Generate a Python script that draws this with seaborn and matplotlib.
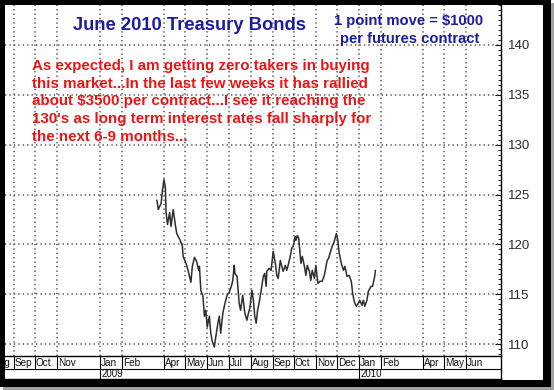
import numpy as np
import pandas as pd
import matplotlib
matplotlib.use("Agg")
import matplotlib.pyplot as plt
from matplotlib.patches import Rectangle
from matplotlib.ticker import MultipleLocator
import seaborn as sns

# ---------------- data ----------------
# days since 2009-01-01 and the closing price of June 2010 T-Bond futures
day_offsets = [80, 82, 86, 88, 90, 92, 93, 95, 98, 100, 103, 106, 108, 110, 113, 116,
               117, 120, 122, 124, 128, 130, 133, 136, 139, 140, 142, 145, 147, 149,
               151, 154, 156, 158, 161, 163, 166, 168, 170, 173, 176, 179, 182, 185,
               187, 189, 190, 193, 194, 196, 198, 201, 204, 207, 209, 211, 214, 216,
               218, 220, 222, 224, 227, 230, 232, 234, 235, 238, 241, 244, 247, 249,
               251, 254, 256, 258, 261, 263, 265, 268, 270, 272, 275, 276, 278, 280,
               281, 283, 285, 288, 290, 292, 295, 297, 299, 302, 304, 307, 310, 313,
               316, 320, 322, 324, 327, 330, 333, 335, 337, 340, 343, 345, 348, 351,
               354, 356, 358, 361, 364, 366, 369, 371, 373, 376, 378, 382, 384, 387, 388]
prices = [124.45, 123.5, 124.1, 125.5, 126.5, 125.7, 123.2, 122.0, 123.2, 121.8, 123.5,
          122.0, 121.1, 120.8, 120.4, 119.8, 118.8, 118.3, 117.9, 117.4, 116.2, 117.8,
          118.7, 118.3, 117.4, 117.8, 115.4, 114.8, 112.8, 113.4, 111.7, 112.8, 111.1,
          110.3, 109.7, 110.7, 112.1, 112.8, 111.1, 113.1, 114.1, 114.9, 115.2, 115.8,
          116.4, 117.9, 117.1, 116.8, 115.9, 114.1, 113.4, 114.9, 113.1, 112.4, 113.1,
          113.6, 115.4, 114.4, 112.8, 112.1, 113.4, 114.1, 115.4, 116.8, 117.1, 115.8,
          117.3, 117.6, 117.4, 119.3, 118.1, 116.9, 116.6, 118.4, 117.8, 117.3, 117.9,
          117.4, 117.9, 118.8, 119.6, 119.8, 120.8, 120.4, 120.9, 120.6, 119.8, 118.1,
          118.8, 117.8, 116.9, 117.9, 117.3, 116.4, 117.4, 116.6, 117.9, 116.1, 116.3,
          116.3, 116.9, 118.4, 118.6, 119.1, 119.8, 120.3, 121.1, 120.4, 119.1, 118.1,
          117.4, 117.8, 116.8, 116.9, 116.3, 115.1, 114.3, 113.8, 114.1, 114.4, 113.9,
          114.4, 113.8, 114.4, 115.3, 115.8, 115.8, 116.8, 117.4]

month_starts = ["2008-08-01", "2008-09-01", "2008-10-01", "2008-11-01", "2009-01-01",
                "2009-02-01", "2009-04-01", "2009-05-01", "2009-06-01", "2009-07-01",
                "2009-08-01", "2009-09-01", "2009-10-01", "2009-11-01", "2009-12-01",
                "2010-01-01", "2010-02-01", "2010-04-01", "2010-05-01", "2010-06-01"]
month_labels = ["Aug", "Sep", "Oct", "Nov", "Jan", "Feb", "Apr", "May", "Jun", "Jul",
                "Aug", "Sep", "Oct", "Nov", "Dec", "Jan", "Feb", "Apr", "May", "Jun"]
year_starts = ["2009-01-01", "2010-01-01"]
year_labels = ["2009", "2010"]
y_ticks = [110, 115, 120, 125, 130, 135, 140]

title = "June 2010 Treasury Bonds"
note_blue = ["1 point move = $1000", "per futures contract"]
note_red = ["As expected, I am getting zero takers in buying",
            "this market...In the last few weeks it has rallied",
            "about $3500 per contract...I see it reaching the",
            "130's as long term interest rates fall sharply for",
            "the next 6-9 months..."]

# ---------------- style ----------------
sns.set_style("white")
plt.rcParams["font.family"] = ["Liberation Sans", "DejaVu Sans"]

W, H = 554, 390
fig = plt.figure(figsize=(W / 100, H / 100), dpi=100)
fig.patch.set_facecolor("white")


def fx(p):
    return p / W


def fy(p):
    return 1 - p / H


PL, PR, PT, PB, BB = 5, 501, 5, 356, 379
ax = fig.add_axes([fx(PL), fy(PB), fx(PR) - fx(PL), fy(PT) - fy(PB)])
ax.set_facecolor("white")

dates = pd.Timestamp("2009-01-01") + pd.to_timedelta(day_offsets, unit="D")
df = pd.DataFrame({"date": dates, "price": prices})

xmin, xmax = pd.Timestamp("2008-08-20"), pd.Timestamp("2010-07-20")
grid_style = dict(color="#555555", lw=1.1, linestyle=(0, (0.9, 2.0)), zorder=1)
for yv in y_ticks:
    ax.axhline(yv, **grid_style)
for ms in month_starts:
    t = pd.Timestamp(ms)
    if xmin < t < xmax:
        ax.axvline(t, **grid_style)

sns.lineplot(data=df, x="date", y="price", ax=ax, color="#2e2e2e", lw=1.1, zorder=3)

ax.set_xlim(xmin, xmax)
ax.set_ylim(108.81, 144.01)
ax.set_xlabel("")
ax.set_ylabel("")
ax.set_xticks([])
ax.yaxis.tick_right()
ax.set_yticks(y_ticks)
ax.set_yticklabels([str(v) for v in y_ticks])
ax.yaxis.set_minor_locator(MultipleLocator(0.5))
ax.tick_params(axis="y", which="major", direction="in", length=4, width=0.8,
               color="black", labelcolor="#2a2a2a", labelsize=9.5, pad=5,
               right=True, left=False)
ax.tick_params(axis="y", which="minor", direction="in", length=2.5, width=0.6,
               color="black", right=True, left=False)
for s in ["top", "left", "bottom"]:
    ax.spines[s].set_visible(False)
ax.spines["right"].set_color("black")
ax.spines["right"].set_linewidth(1.0)

# ---------------- date band ----------------
bx = fig.add_axes([fx(PL), fy(BB), fx(PR) - fx(PL), fy(PB) - fy(BB)])
bx.set_xlim(xmin, xmax)
bx.set_ylim(0, 1)
bx.set_xticks([])
bx.set_yticks([])
bx.spines["left"].set_visible(False)
for s in ["top", "bottom", "right"]:
    bx.spines[s].set_color("black")
    bx.spines[s].set_linewidth(1.0)
mid = (BB - 369) / (BB - PB)
bx.axhline(mid, color="black", lw=0.8)
for ms, lab in zip(month_starts, month_labels):
    t = pd.Timestamp(ms)
    full = ms in year_starts
    bx.axvline(t, ymin=0 if full else mid, ymax=1, color="black", lw=0.8)
    bx.text(t + pd.Timedelta(days=1.5), (1 + mid) / 2, lab, ha="left", va="center",
            fontsize=7.2, color="#111111", clip_on=True)
for ys, lab in zip(year_starts, year_labels):
    bx.text(pd.Timestamp(ys) + pd.Timedelta(days=1.5), mid / 2, lab, ha="left",
            va="center", fontsize=7.0, color="#111111", clip_on=True)

# ---------------- texts ----------------
fig.text(fx(189.5), fy(25), title, ha="center", va="center", fontsize=13.2,
         fontweight="bold", color="#1c1ca0")
fig.text(fx(408.5), fy(20.6), note_blue[0], ha="center", va="center", fontsize=10.6,
         fontweight="bold", color="#1c1ca0")
fig.text(fx(409.5), fy(38.5), note_blue[1], ha="center", va="center", fontsize=10.6,
         fontweight="bold", color="#1c1ca0")
for i, line in enumerate(note_red):
    fig.text(fx(32), fy(65.7 + 17.8 * i), line, ha="left", va="center", fontsize=10.9,
             fontweight="bold", color="#e81616")

# ---------------- outer frame ----------------
def prect(x0, y0, x1, y1, color):
    fig.patches.append(Rectangle((fx(x0), fy(y1)), fx(x1) - fx(x0), fy(y0) - fy(y1),
                                 transform=fig.transFigure, facecolor=color,
                                 edgecolor="none", zorder=10))

prect(3, 383, 554, 390, "#a0a0a0")
prect(548, 3, 554, 390, "#a0a0a0")
prect(0, 0, 551, 4.5, "black")
prect(0, 0, 4.5, 387, "black")
prect(543, 0, 551, 387, "black")
prect(0, 379.5, 551, 387, "black")

fig.savefig("out.png", dpi=100)
